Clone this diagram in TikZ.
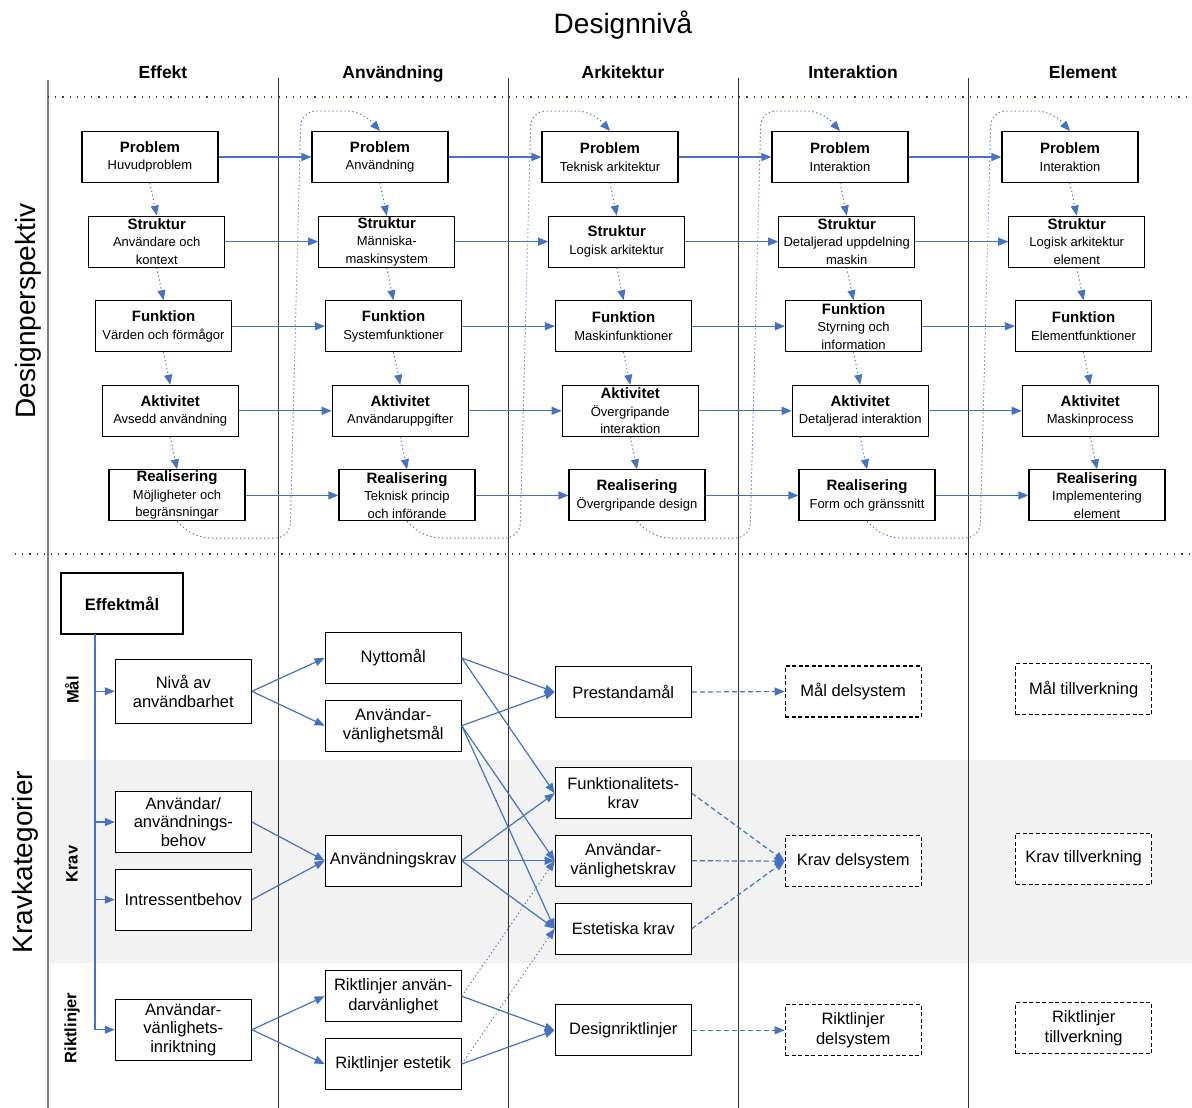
\documentclass[tikz,border=0pt]{standalone}
\usepackage{fontspec}
\setmainfont{Liberation Sans}
\usetikzlibrary{arrows.meta}
\definecolor{lblue}{HTML}{4472C4}
\definecolor{bandgray}{HTML}{F2F2F2}
\newcommand\tbt{\fontsize{15}{17.5}\selectfont\bfseries}
\newcommand\tbmk[4]{%
  \pgfmathsetmacro\tbx{150+230*#2+6.75*#3}%
  \pgfmathsetmacro\tby{157+84.6*#3}%
  \node[tbox] (#1) at (\tbx,\tby) {#4};}
\tikzset{
  tbox/.style={draw=black, line width=1.1pt, fill=white, minimum width=136pt, minimum height=51pt,
    inner sep=1pt, align=center, font=\fontsize{13}{17.5}\selectfont},
  lbox/.style={draw=black, line width=1.1pt, fill=white, minimum width=136pt, minimum height=51pt,
    inner sep=1pt, align=center, font=\fontsize{16.5}{19.5}\selectfont},
  dbox/.style={lbox, dash pattern=on 4pt off 2.5pt},
  arr/.style={draw=lblue, line width=1.2pt, -{Triangle[length=10pt,width=8pt]}},
  darr/.style={arr, dash pattern=on 5pt off 3pt},
  dotarr/.style={arr, line width=1pt, dash pattern=on 1.2pt off 2.8pt},
  loopar/.style={dotarr, rounded corners=15pt},
  colline/.style={draw=black!80, line width=1pt},
  sepline/.style={draw=black!75, line width=1.1pt, dash pattern=on 1.2pt off 6pt},
  biglabel/.style={font=\fontsize{28}{30}\selectfont},
  colhead/.style={font=\fontsize{17.5}{20}\selectfont\bfseries, text height=13pt, text depth=4pt},
  sidelabel/.style={font=\fontsize{16.5}{19}\selectfont\bfseries, rotate=90},
}
\begin{document}
\begin{tikzpicture}[x=1pt, y=-1pt]
\useasboundingbox (0,0) rectangle (1192,1108);
% band
\fill[bandgray] (48,760) rectangle (1192,963);
% column lines
\draw[draw=black!50, line width=1.5pt] (48,80) -- (48,1108);
\foreach \xx in {278,508,738,968} \draw[colline] (\xx,78) -- (\xx,1108);
% separators
\draw[sepline] (48,97) -- (1192,97);
\draw[sepline] (15,554) -- (1192,554);
% headings
\node[biglabel] (title) at (623,25) {Designnivå};
\node[colhead] (h1) at (163,74) {Effekt};
\node[colhead] (h2) at (393,74) {Användning};
\node[colhead] (h3) at (623,74) {Arkitektur};
\node[colhead] (h4) at (853,74) {Interaktion};
\node[colhead] (h5) at (1083,74) {Element};
\node[biglabel, rotate=90] (dp) at (28,311) {Designperspektiv};
\node[biglabel, rotate=90] (kk) at (25,862) {Kravkategorier};
\node[sidelabel] (sm) at (72,690) {Mål};
\node[sidelabel] (sk) at (72,864) {Krav};
\node[sidelabel] (sr) at (72,1028) {Riktlinjer};

% top grid
\tbmk{P1}{0}{0}{{\tbt Problem}\\Huvudproblem}
\tbmk{S1}{0}{1}{{\tbt Struktur}\\Användare och\\kontext}
\tbmk{F1}{0}{2}{{\tbt Funktion}\\Värden och förmågor}
\tbmk{A1}{0}{3}{{\tbt Aktivitet}\\Avsedd användning}
\tbmk{R1}{0}{4}{{\tbt Realisering}\\Möjligheter och\\begränsningar}
\tbmk{P2}{1}{0}{{\tbt Problem}\\Användning}
\tbmk{S2}{1}{1}{{\tbt Struktur}\\Människa-\\maskinsystem}
\tbmk{F2}{1}{2}{{\tbt Funktion}\\Systemfunktioner}
\tbmk{A2}{1}{3}{{\tbt Aktivitet}\\Användaruppgifter}
\tbmk{R2}{1}{4}{{\tbt Realisering}\\Teknisk princip\\och införande}
\tbmk{P3}{2}{0}{{\tbt Problem}\\Teknisk arkitektur}
\tbmk{S3}{2}{1}{{\tbt Struktur}\\Logisk arkitektur}
\tbmk{F3}{2}{2}{{\tbt Funktion}\\Maskinfunktioner}
\tbmk{A3}{2}{3}{{\tbt Aktivitet}\\Övergripande\\interaktion}
\tbmk{R3}{2}{4}{{\tbt Realisering}\\Övergripande design}
\tbmk{P4}{3}{0}{{\tbt Problem}\\Interaktion}
\tbmk{S4}{3}{1}{{\tbt Struktur}\\Detaljerad uppdelning\\maskin}
\tbmk{F4}{3}{2}{{\tbt Funktion}\\Styrning och\\information}
\tbmk{A4}{3}{3}{{\tbt Aktivitet}\\Detaljerad interaktion}
\tbmk{R4}{3}{4}{{\tbt Realisering}\\Form och gränssnitt}
\tbmk{P5}{4}{0}{{\tbt Problem}\\Interaktion}
\tbmk{S5}{4}{1}{{\tbt Struktur}\\Logisk arkitektur\\element}
\tbmk{F5}{4}{2}{{\tbt Funktion}\\Elementfunktioner}
\tbmk{A5}{4}{3}{{\tbt Aktivitet}\\Maskinprocess}
\tbmk{R5}{4}{4}{{\tbt Realisering}\\Implementering\\element}

% horizontal arrows
\foreach \r in {P,S,F,A,R}{
  \foreach \c [evaluate=\c as \n using int(\c+1)] in {1,2,3,4}{
    \draw[arr] (\r\c.east) -- (\r\n.west);
  }
}
% vertical dotted arrows
\foreach \c in {1,...,5}{
  \draw[dotarr] (P\c.south) -- (S\c.north);
  \draw[dotarr] (S\c.south) -- (F\c.north);
  \draw[dotarr] (F\c.south) -- (A\c.north);
  \draw[dotarr] (A\c.south) -- (R\c.north);
}
% loops
\foreach \c [evaluate=\c as \n using int(\c+1), evaluate=\c as \d using 230*(\c-1)] in {1,2,3,4}{
  \coordinate (la\c) at (195+\d,538);
  \coordinate (lb\c) at (290+\d,538);
  \coordinate (lc\c) at (301+\d,111);
  \coordinate (ld\c) at (362+\d,111);
  \draw[loopar] (R\c.south) -- (la\c) -- (lb\c) -- (lc\c) -- (ld\c) -- (P\n.north);
}

% lower section
\node[lbox, font=\fontsize{16.5}{19.5}\selectfont\bfseries, minimum width=122pt, minimum height=61pt] (Eff) at (122,603.5) {Effektmål};
\node[lbox, minimum height=64pt] (Niv) at (183.3,691.3) {Nivå av\\användbarhet};
\node[lbox, minimum height=61pt, font=\fontsize{16.5}{18.4}\selectfont] (Beh) at (183.3,822) {Användar/\\användnings-\\behov};
\node[lbox, minimum height=61pt] (Int) at (183.3,899.7) {Intressentbehov};
\node[lbox, minimum height=61pt, font=\fontsize{16.5}{18.4}\selectfont] (Inr) at (183.3,1029.7) {Användar-\\vänlighets-\\inriktning};

\node[lbox] (Nyt) at (393.2,658) {Nyttomål};
\node[lbox] (Avm) at (393.2,725.7) {Användar-\\vänlighetsmål};
\node[lbox] (Ank) at (393.2,860.7) {Användningskrav};
\node[lbox] (Rav) at (393.2,996.2) {Riktlinjer använ-\\darvänlighet};
\node[lbox] (Res) at (393.2,1064) {Riktlinjer estetik};

\node[lbox] (Pre) at (623.2,692) {Prestandamål};
\node[lbox] (Fun) at (623.2,793.2) {Funktionalitets-\\krav};
\node[lbox] (Avk) at (623.2,860.7) {Användar-\\vänlighetskrav};
\node[lbox] (Est) at (623.2,928.7) {Estetiska krav};
\node[lbox] (Des) at (623.2,1030.3) {Designriktlinjer};

\node[dbox] (Md) at (853.2,691.5) {Mål delsystem};
\node[dbox] (Kd) at (853.2,861.2) {Krav delsystem};
\node[dbox] (Rd) at (853.2,1030.3) {Riktlinjer\\delsystem};

\node[dbox] (Mt) at (1083.7,689.2) {Mål tillverkning};
\node[dbox] (Kt) at (1083.7,858.7) {Krav tillverkning};
\node[dbox] (Rt) at (1083.7,1028) {Riktlinjer\\tillverkning};

% trunk
\coordinate (vtop) at (95,634);
\coordinate (vbot) at (95,1029.7);
\draw[draw=lblue, line width=1.2pt] (vtop) -- (vbot);
\foreach \b in {Niv,Beh,Int,Inr} \draw[arr] (\b.west -| vtop) -- (\b.west);

% solid connectors
\draw[arr] (Niv.east) -- (Nyt.west);
\draw[arr] (Niv.east) -- (Avm.west);
\draw[arr] (Beh.east) -- (Ank.west);
\draw[arr] (Int.east) -- (Ank.west);
\draw[arr] (Inr.east) -- (Rav.west);
\draw[arr] (Inr.east) -- (Res.west);
\draw[arr] (Nyt.east) -- (Pre.west);
\draw[arr] (Nyt.east) -- (Fun.west);
\draw[arr] (Avm.east) -- (Pre.west);
\draw[arr] (Avm.east) -- (Avk.west);
\draw[arr] (Avm.east) -- (Est.west);
\draw[arr] (Ank.east) -- (Fun.west);
\draw[arr] (Ank.east) -- (Avk.west);
\draw[arr] (Ank.east) -- (Est.west);
\draw[arr] (Rav.east) -- (Des.west);
\draw[arr] (Res.east) -- (Des.west);
% dotted connectors
\draw[dotarr] (Rav.east) -- (Avk.west);
\draw[dotarr] (Res.east) -- (Est.west);
% dashed connectors
\draw[darr] (Pre.east) -- (Md.west);
\draw[darr] (Fun.east) -- (Kd.west);
\draw[darr] (Avk.east) -- (Kd.west);
\draw[darr] (Est.east) -- (Kd.west);
\draw[darr] (Des.east) -- (Rd.west);
\end{tikzpicture}
\end{document}
